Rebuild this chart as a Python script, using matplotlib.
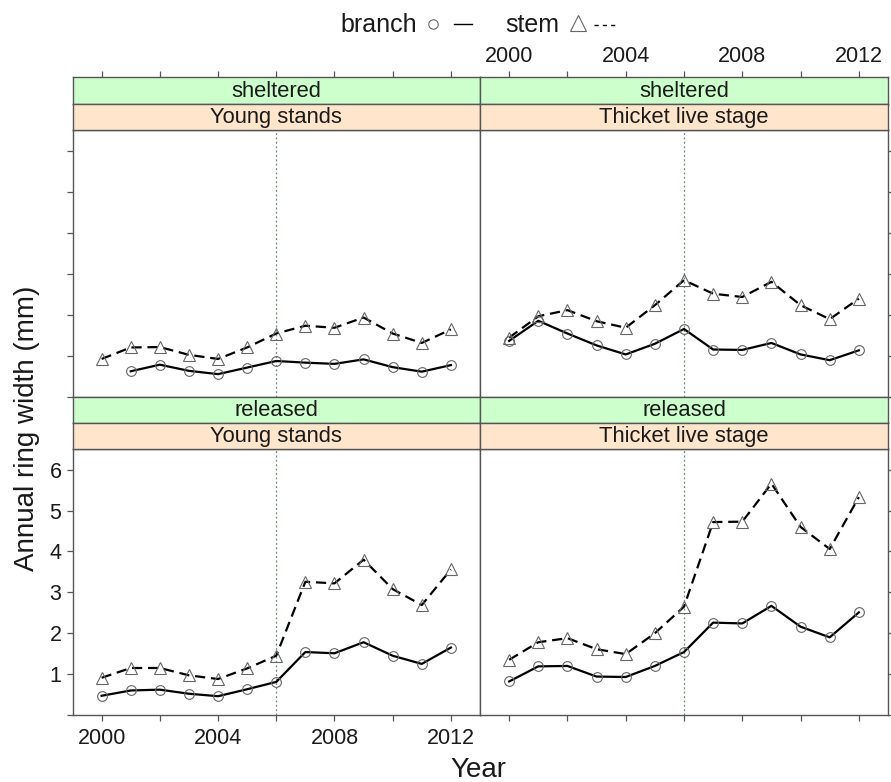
import matplotlib
matplotlib.use("Agg")
import matplotlib.pyplot as plt
import numpy as np
from matplotlib.lines import Line2D

plt.rcParams['font.family'] = ['Liberation Sans', 'DejaVu Sans']

# ---------------- data ----------------
years = [2000, 2001, 2002, 2003, 2004, 2005, 2006, 2007, 2008, 2009, 2010, 2011, 2012]

sheltered_young_branch = [np.nan, 0.62, 0.78, 0.63, 0.55, 0.71, 0.87, 0.83, 0.80, 0.91, 0.72, 0.61, 0.77]
sheltered_young_stem = [0.92, 1.20, 1.21, 1.02, 0.92, 1.20, 1.54, 1.73, 1.68, 1.93, 1.54, 1.31, 1.64]
sheltered_thicket_branch = [1.36, 1.85, 1.54, 1.25, 1.03, 1.29, 1.65, 1.15, 1.14, 1.31, 1.03, 0.89, 1.13]
sheltered_thicket_stem = [1.44, 1.96, 2.11, 1.84, 1.68, 2.23, 2.84, 2.51, 2.43, 2.80, 2.23, 1.89, 2.39]
released_young_branch = [0.47, 0.60, 0.62, 0.52, 0.46, 0.63, 0.81, 1.54, 1.51, 1.78, 1.45, 1.25, 1.65]
released_young_stem = [0.91, 1.15, 1.15, 0.97, 0.88, 1.14, 1.45, 3.26, 3.22, 3.80, 3.08, 2.69, 3.56]
released_thicket_branch = [0.82, 1.19, 1.20, 0.94, 0.93, 1.20, 1.54, 2.26, 2.24, 2.67, 2.16, 1.90, 2.51]
released_thicket_stem = [1.35, 1.78, 1.88, 1.61, 1.49, 2.00, 2.65, 4.72, 4.73, 5.66, 4.60, 4.06, 5.33]

release_year = 2006
x_ticks = [2000, 2002, 2004, 2006, 2008, 2010, 2012]
x_ticklabels = ['2000', '', '2004', '', '2008', '', '2012']
y_ticks = [0, 1, 2, 3, 4, 5, 6]
y_ticklabels = ['', '1', '2', '3', '4', '5', '6']

treatments = ['sheltered', 'released']
stages = ['Young stands', 'Thicket live stage']
panel_data = {
    ('sheltered', 'Young stands'): (sheltered_young_branch, sheltered_young_stem),
    ('sheltered', 'Thicket live stage'): (sheltered_thicket_branch, sheltered_thicket_stem),
    ('released', 'Young stands'): (released_young_branch, released_young_stem),
    ('released', 'Thicket live stage'): (released_thicket_branch, released_thicket_stem),
}

# ---------------- layout ----------------
W, H = 891, 782
fig = plt.figure(figsize=(W / 100, H / 100), dpi=100)

def rect(x0, y0, x1, y1):
    return [x0 / W, 1 - y1 / H, (x1 - x0) / W, (y1 - y0) / H]

cols = [(72.5, 480.0), (480.0, 888.0)]
rows = [  # (outer strip top, inner strip top, panel top, panel bottom)
    (77.3, 103.8, 130.0, 396.7),
    (396.7, 423.0, 449.3, 715.0),
]

FRAME = '#555555'
GREEN = '#ccffcc'
ORANGE = '#ffe5cc'
TICKFS = 15.5
STRIPFS = 15.8

def style_spines(ax):
    for s in ax.spines.values():
        s.set_color(FRAME)
        s.set_linewidth(1.0)

for ri, treat in enumerate(treatments):
    for ci, stage in enumerate(stages):
        x0, x1 = cols[ci]
        s0, s1, p0, p1 = rows[ri]
        ax = fig.add_axes(rect(x0, p0, x1, p1))
        br, st = panel_data[(treat, stage)]
        ax.axvline(release_year, color='#6b8e6b', lw=0.9, ls=(0, (1.5, 2)), zorder=1)
        ax.plot(years, br, color='black', lw=1.6, zorder=2)
        ax.plot(years, br, ls='none', marker='o', ms=7.0, mfc='none',
                mec='#666666', mew=0.8, zorder=3)
        ax.plot(years, st, color='black', lw=1.6, ls=(0, (4.6, 2.6)), zorder=2)
        ax.plot(years, st, ls='none', marker='^', ms=9.2, mfc='none',
                mec='#666666', mew=0.8, zorder=3)
        ax.set_xlim(1999.0, 2013.0)
        ax.set_ylim(0.0, 6.5)
        style_spines(ax)
        ax.tick_params(colors=FRAME, direction='out', length=4.5, width=0.9,
                       labelsize=TICKFS, labelcolor='#1a1a1a')
        ax.set_yticks(y_ticks)
        ax.set_xticks(x_ticks)
        if ci == 0:
            ax.tick_params(axis='y', left=True, right=False, labelleft=(ri == 1), labelright=False)
            ax.set_yticklabels(y_ticklabels)
        else:
            ax.tick_params(axis='y', left=False, right=True, labelleft=False, labelright=False)
        if ri == 1:
            ax.tick_params(axis='x', bottom=True, top=False, labelbottom=(ci == 0), labeltop=False, pad=5)
            ax.set_xticklabels(x_ticklabels)
        else:
            ax.tick_params(axis='x', bottom=False, top=False, labelbottom=False, labeltop=False)

        # strips
        for (a, b, col, txt) in [(s0, s1, GREEN, treat), (s1, p0, ORANGE, stage)]:
            sax = fig.add_axes(rect(x0, a, x1, b))
            sax.set_facecolor(col)
            sax.set_xlim(1999.0, 2013.0)
            sax.set_ylim(0, 1)
            sax.set_yticks([])
            style_spines(sax)
            sax.text(0.5, 0.47, txt, transform=sax.transAxes, ha='center', va='center',
                     fontsize=STRIPFS, color='#1a1a1a')
            if ri == 0 and col == GREEN:
                sax.set_xticks(x_ticks)
                sax.tick_params(axis='x', bottom=False, top=True, labelbottom=False,
                                labeltop=(ci == 1), colors=FRAME, direction='out',
                                length=4.5, width=0.9, labelsize=TICKFS,
                                labelcolor='#1a1a1a', pad=3)
                sax.set_xticklabels(x_ticklabels)
            else:
                sax.set_xticks([])

# axis labels
fig.text(27 / W, 1 - 428 / H, 'Annual ring width (mm)', rotation=90, ha='center', va='center',
         fontsize=20, color='#1a1a1a')
fig.text(478 / W, 1 - 770 / H, 'Year', ha='center', va='center', fontsize=20, color='#1a1a1a')

# legend (key at top)
ly = 1 - 24 / H
base = 1 - 31.5 / H
fig.text(417.5 / W, base, 'branch', ha='right', va='baseline', fontsize=18, color='#1a1a1a')
fig.add_artist(Line2D([433.3 / W], [ly], transform=fig.transFigure, marker='o', ms=6.8,
                      mfc='none', mec='#666666', mew=0.8, ls='none'))
fig.add_artist(Line2D([454 / W, 472 / W], [ly, ly], transform=fig.transFigure,
                      color='black', lw=1.0))
fig.text(505 / W, base, 'stem', ha='left', va='baseline', fontsize=18, color='#1a1a1a')
fig.add_artist(Line2D([577.5 / W], [ly + 1 / H], transform=fig.transFigure, marker='^', ms=11,
                      mfc='none', mec='#666666', mew=0.8, ls='none'))
fig.add_artist(Line2D([594 / W, 617 / W], [ly - 1 / H, ly - 1 / H], transform=fig.transFigure,
                      color='black', lw=1.0, ls=(0, (3, 3))))

fig.savefig('out.png', dpi=100)
